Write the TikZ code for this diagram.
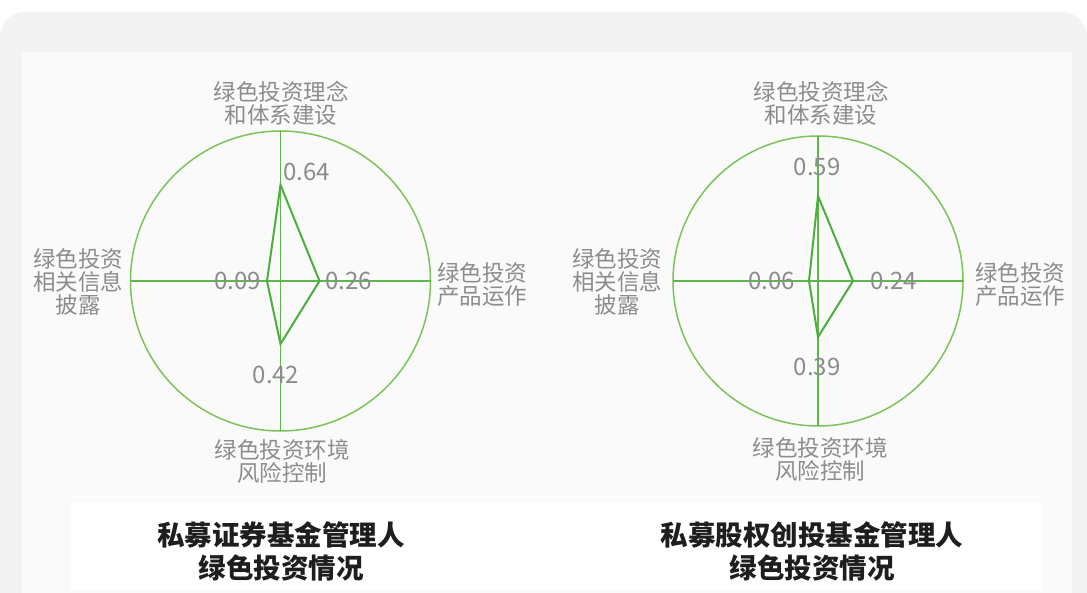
\documentclass[tikz,border=0pt]{standalone}
\usepackage{fontspec}
\setmainfont{Noto Sans CJK SC}
\newfontfamily\cjk{Noto Sans CJK SC}
\definecolor{bgouter}{HTML}{F3F3F3}
\definecolor{bginner}{HTML}{FAFAFA}
\definecolor{ringgreen}{HTML}{7CC35A}
\definecolor{axisgreen}{HTML}{5DB84A}
\definecolor{polygreen}{HTML}{4CAE3C}
\definecolor{labelgray}{HTML}{8C8C8C}
\definecolor{captionblack}{HTML}{1E1E1E}
\tikzset{
  ring/.style={draw=ringgreen, line width=1.5pt},
  axisline/.style={draw=axisgreen, line width=1.2pt},
  radarpoly/.style={draw=polygreen, line width=2pt, line join=miter},
  axislabel/.style={text=labelgray, font=\cjk\fontsize{22.5}{23}\selectfont, align=center, inner sep=0pt},
  valuelabel/.style={text=labelgray, font=\cjk\fontsize{24}{24}\selectfont, inner sep=0pt},
  captionlabel/.style={text=captionblack, font=\cjk\bfseries\fontsize{27.5}{33}\selectfont, align=center, inner sep=0pt}
}
\begin{document}
\begin{tikzpicture}[x=1pt,y=-1pt]
\useasboundingbox (0,0) rectangle (1087,593);
% backgrounds
\fill[white] (0,0) rectangle (1087,593);
\fill[bgouter, rounded corners=25pt] (0,12) rectangle (1087,620);
\fill[bginner] (22,52) rectangle (1072,593);
\fill[white] (71,503) rectangle (1042,591);

% ---------- left chart ----------
\coordinate (Lc) at (280.5,281);
\draw[ring] (Lc) circle[radius=150];
\coordinate (Ltop) at (280.5,131);
\coordinate (Lbot) at (280.5,431);
\coordinate (Lleft) at (130.5,281);
\coordinate (Lright) at (430.5,281);
\draw[axisline] (Ltop) -- (Lbot);
\draw[axisline] (Lleft) -- (Lright);
\coordinate (Lp1) at (280.5,185);
\coordinate (Lp2) at (319.5,281);
\coordinate (Lp3) at (280.5,344);
\coordinate (Lp4) at (267,281);
\draw[radarpoly] (Lp1) -- (Lp2) -- (Lp3) -- (Lp4) -- cycle;

\node[axislabel] (Lt) at (281,103) {绿色投资理念\\和体系建设};
\node[axislabel] (Ll) at (78,282) {绿色投资\\相关信息\\披露};
\node[axislabel] (Lr) at (482,284) {绿色投资\\产品运作};
\node[axislabel] (Lb) at (282,461) {绿色投资环境\\风险控制};
\node[valuelabel, anchor=west] (Lv1) at (283,172) {0.64};
\node[valuelabel, anchor=west] (Lv2) at (325,281) {0.26};
\node[valuelabel, anchor=east] (Lv4) at (261,281) {0.09};
\node[valuelabel] (Lv3) at (276,375) {0.42};
\node[captionlabel] (Lcap) at (281,551) {私募证券基金管理人\\绿色投资情况};

% ---------- right chart ----------
\coordinate (Rc) at (818,281);
\draw[ring] (Rc) circle[radius=145];
\coordinate (Rtop) at (818,136);
\coordinate (Rbot) at (818,426);
\coordinate (Rleft) at (673,281);
\coordinate (Rright) at (963,281);
\draw[axisline] (Rtop) -- (Rbot);
\draw[axisline] (Rleft) -- (Rright);
\coordinate (Rp1) at (818,196);
\coordinate (Rp2) at (853,281);
\coordinate (Rp3) at (818,337);
\coordinate (Rp4) at (809,281);
\draw[radarpoly] (Rp1) -- (Rp2) -- (Rp3) -- (Rp4) -- cycle;

\node[axislabel] (Rt) at (821,103) {绿色投资理念\\和体系建设};
\node[axislabel] (Rl) at (617,282) {绿色投资\\相关信息\\披露};
\node[axislabel] (Rr) at (1020,284) {绿色投资\\产品运作};
\node[axislabel] (Rb) at (820,459) {绿色投资环境\\风险控制};
\node[valuelabel] (Rv1) at (817,167) {0.59};
\node[valuelabel, anchor=west] (Rv2) at (870,281) {0.24};
\node[valuelabel, anchor=east] (Rv4) at (795,281) {0.06};
\node[valuelabel] (Rv3) at (817,367) {0.39};
\node[captionlabel] (Rcap) at (812,551) {私募股权创投基金管理人\\绿色投资情况};
\end{tikzpicture}
\end{document}
